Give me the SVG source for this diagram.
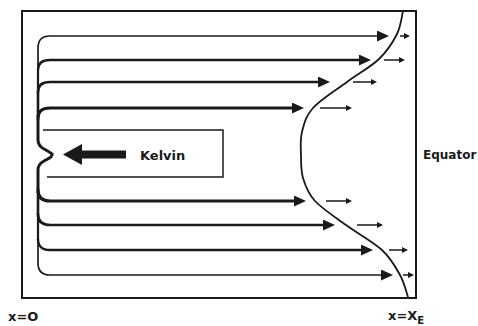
<svg xmlns="http://www.w3.org/2000/svg" width="478" height="326" viewBox="0 0 478 326">
  <style>
    .ink { fill: none; stroke: #1a1a1a; stroke-linecap: butt; stroke-linejoin: round; }
    .frame { fill: none; stroke: #1a1a1a; stroke-width: 2; }
    .thin { fill: none; stroke: #1a1a1a; stroke-width: 1.5; }
    .lbl { font-family: "DejaVu Sans", "Liberation Sans", sans-serif; fill: #1a1a1a; }
  </style>
  <defs>
    <marker id="head" viewBox="0 0 12 11" markerWidth="12" markerHeight="11" refX="1" refY="5.5" orient="auto" markerUnits="userSpaceOnUse">
      <path d="M0,0 L12,5.5 L0,11 Z" fill="#1a1a1a"/>
    </marker>
    <marker id="tip" viewBox="0 0 6 6" markerWidth="6" markerHeight="6" refX="1" refY="3" orient="auto" markerUnits="userSpaceOnUse">
      <path d="M0,0 L6,3 L0,6 Z" fill="#1a1a1a"/>
    </marker>
  </defs>
  <rect width="478" height="326" fill="#ffffff"/>

  <!-- basin outline -->
  <g id="basin">
    <rect class="frame" x="22" y="11" width="394" height="287"/>
  </g>

  <!-- Kelvin wave box -->
  <g id="kelvin">
    <path class="thin" d="M43,130 H223 V177 H47"/>
    <path d="M63,154.5 L82,144 L82,165 Z" fill="#1a1a1a"/>
    <rect x="80" y="150.5" width="46" height="8" fill="#1a1a1a"/>
    <rect x="50.5" y="153" width="3" height="3" fill="#1a1a1a"/>
    <text class="lbl" x="140" y="160" font-size="13" font-weight="bold">Kelvin</text>
  </g>

  <!-- equator profile -->
  <g id="equator">
    <path class="ink" stroke-width="1.8" d="M403,11 C402,14.8 401,26 397,34 C393,42 387.3,51 379,59 C370.7,67 358,73.8 347,82 C336,90.2 320.5,99.7 313,108 C305.5,116.3 304,124.2 302,132 C300,139.8 300.8,147.3 301,155 C301.2,162.7 300.7,170.3 303,178 C305.3,185.7 307.8,193.2 315,201 C322.2,208.8 334.8,216.8 346,225 C357.2,233.2 373,241.7 382,250 C391,258.3 395.7,267.2 400,275 C404.3,282.8 406.7,293.3 408,297"/>
    <text class="lbl" x="423" y="159" font-size="12" font-weight="bold">Equator</text>
  </g>

  <!-- axis labels -->
  <g id="axis">
    <text class="lbl" x="8" y="321" font-size="13" font-weight="bold">x=O</text>
    <text class="lbl" x="388" y="320" font-size="13" font-weight="bold">x=X<tspan font-size="10" dy="4">E</tspan></text>
  </g>

  <!-- coastal trunk and eastward flows -->
  <g id="connectors">
    <!-- trunk along the western boundary -->
    <path class="ink" stroke-width="1.7" d="M38,72 V48"/>
    <path class="ink" stroke-width="2.2" d="M38,94 V70"/>
    <path class="ink" stroke-width="2.6" d="M38,120 V92"/>
    <path class="ink" stroke-width="3" d="M38,118 V140 Q38,146 44,149 Q50,152 52,154"/>
    <path class="ink" stroke-width="3" d="M52,156 Q50,158 44,161 Q38,164 38,170 V190"/>
    <path class="ink" stroke-width="2.6" d="M38,188 V215"/>
    <path class="ink" stroke-width="2.2" d="M38,213 V240"/>
    <path class="ink" stroke-width="1.7" d="M38,238 V263"/>

    <!-- northern branches -->
    <path class="ink" stroke-width="1.7" marker-end="url(#head)" d="M38,48 Q38,36 50,36 H378"/>
    <path class="ink" stroke-width="2.3" marker-end="url(#head)" d="M38,70 Q38,60 50,60 H360"/>
    <path class="ink" stroke-width="2.7" marker-end="url(#head)" d="M38,92 Q38,82 50,82 H319"/>
    <path class="ink" stroke-width="3.2" marker-end="url(#head)" d="M38,118 Q38,108 50,108 H293"/>

    <!-- southern branches -->
    <path class="ink" stroke-width="3.2" marker-end="url(#head)" d="M38,190 Q38,201 50,201 H295"/>
    <path class="ink" stroke-width="2.7" marker-end="url(#head)" d="M38,214 Q38,225 50,225 H324"/>
    <path class="ink" stroke-width="2.3" marker-end="url(#head)" d="M38,239 Q38,250 50,250 H362"/>
    <path class="ink" stroke-width="1.7" marker-end="url(#head)" d="M38,263 Q38,275 50,275 H382"/>

    <!-- weak flow beyond the equator profile -->
    <path class="thin" marker-end="url(#tip)" d="M400,36 H405"/>
    <path class="thin" marker-end="url(#tip)" d="M384,60 H400"/>
    <path class="thin" marker-end="url(#tip)" d="M353,82 H372"/>
    <path class="thin" marker-end="url(#tip)" d="M320,108 H347"/>
    <path class="thin" marker-end="url(#tip)" d="M326,201 H347"/>
    <path class="thin" marker-end="url(#tip)" d="M357,225 H378"/>
    <path class="thin" marker-end="url(#tip)" d="M389,250 H403"/>
    <path class="thin" marker-end="url(#tip)" d="M403,275 H409"/>
  </g>
</svg>
